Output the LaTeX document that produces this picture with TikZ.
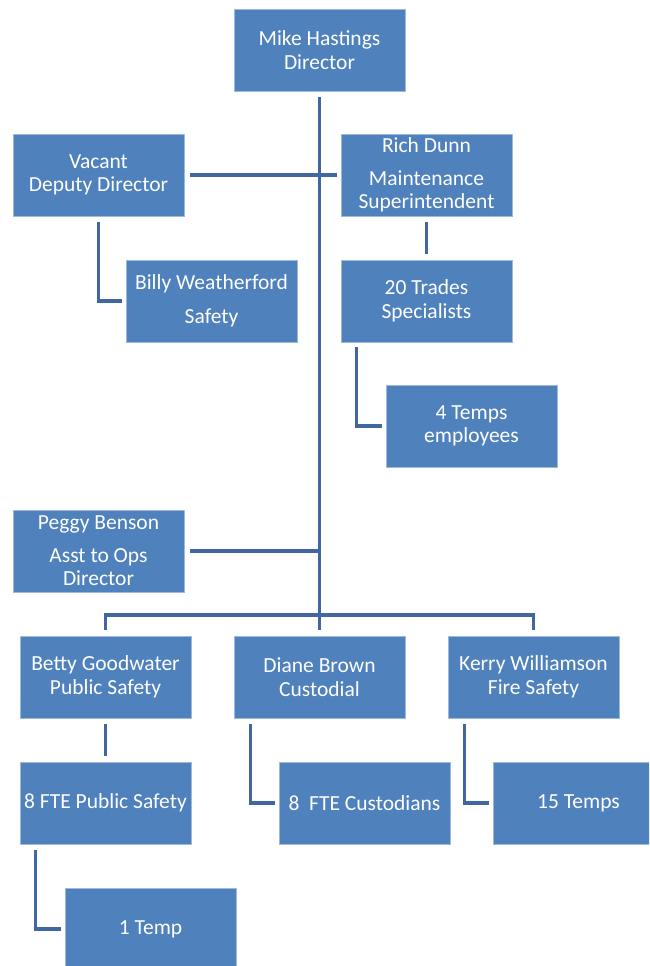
\documentclass[tikz,border=0pt]{standalone}
\usepackage{fontspec}
\setmainfont{Carlito}
\usetikzlibrary{calc}
\definecolor{boxblue}{RGB}{79,129,189}
\definecolor{linkblue}{RGB}{64,103,160}
\tikzset{
	post/.style={draw=boxblue!55!white, line width=0.3mm, fill=boxblue, text=white,
		minimum width=171pt, minimum height=82pt, inner sep=0pt, align=center,
		font=\fontsize{21.5}{23.5}\selectfont},
	link/.style={draw=linkblue, line width=1.3mm}
}

\begin{document}
\begin{tikzpicture}[x=1pt, y=-1pt]
			%%%%% START %%%%%
			\useasboundingbox (0, 0) rectangle (649, 966);
			\clip (0, 0) rectangle (649, 966);
			
			\node[post] (mike) at (319.5, 50) {Mike Hastings\\Director};
			
			\node[post] (vacant) at (98.5, 175) {Vacant\\Deputy Director};
			\node[post] (rich) at (426.5, 175) {Rich Dunn\\[9pt]Maintenance\\Superintendent};
			
			\node[post] (billy) at (211.5, 301) {Billy Weatherford\\[10pt]Safety};
			\node[post] (trades) at (426.5, 301) {20 Trades\\Specialists};
			\node[post] (temps) at (471.5, 426) {4 Temps\\employees};
			
			\node[post] (peggy) at (98.5, 551) {Peggy Benson\\[9pt]Asst to Ops\\Director};
			
			\node[post] (betty) at (105.5, 677) {Betty Goodwater\\Public Safety};
			\node[post] (diane) at (319.5, 677) {Diane Brown\\Custodial};
			\node[post] (kerry) at (533.5, 677) {Kerry Williamson\\Fire Safety};
			
			\node[post] (fteps) at (105.5, 803) {8 FTE Public Safety};
			\node[post] (ftecust) at (364.5, 803) {8~~FTE Custodians};
			\node[post] (fire) at (578.5, 803) {15 Temps};
			\node[post] (onetemp) at (150.5, 929) {1 Temp};
			
			\coordinate (bar) at (319.5, 615);
			
			% trunk and branches
			\draw[link] ([yshift=-6pt]mike.south) -- ([yshift=6pt]diane.north);
			\draw[link] ([xshift=6pt]vacant.east) -- ([xshift=-4pt]rich.west);
			\draw[link] ([xshift=6pt]peggy.east) -- (peggy.east -| mike.south);
			\draw[link] ([yshift=6pt]betty.north) |- (bar) -| ([yshift=6pt]kerry.north);
			
			% sub-units
			\draw[link] ([yshift=-6pt]vacant.south) |- ([xshift=-4pt]billy.west);
			\draw[link] ([yshift=-6pt]rich.south) -- ([yshift=6pt]trades.north);
			\draw[link] ([xshift=16pt, yshift=-5pt]trades.south west) |- ([xshift=-4pt]temps.west);
			\draw[link] ([yshift=-6pt]betty.south) -- ([yshift=6pt]fteps.north);
			\draw[link] ([xshift=17pt, yshift=-6pt]diane.south west) |- ([xshift=-4pt]ftecust.west);
			\draw[link] ([xshift=17pt, yshift=-6pt]kerry.south west) |- ([xshift=-4pt]fire.west);
			\draw[link] ([xshift=16pt, yshift=-6pt]fteps.south west) |- ([xshift=-4pt]onetemp.west);
			
			%%%%% END %%%%%
\end{tikzpicture}
\end{document}
